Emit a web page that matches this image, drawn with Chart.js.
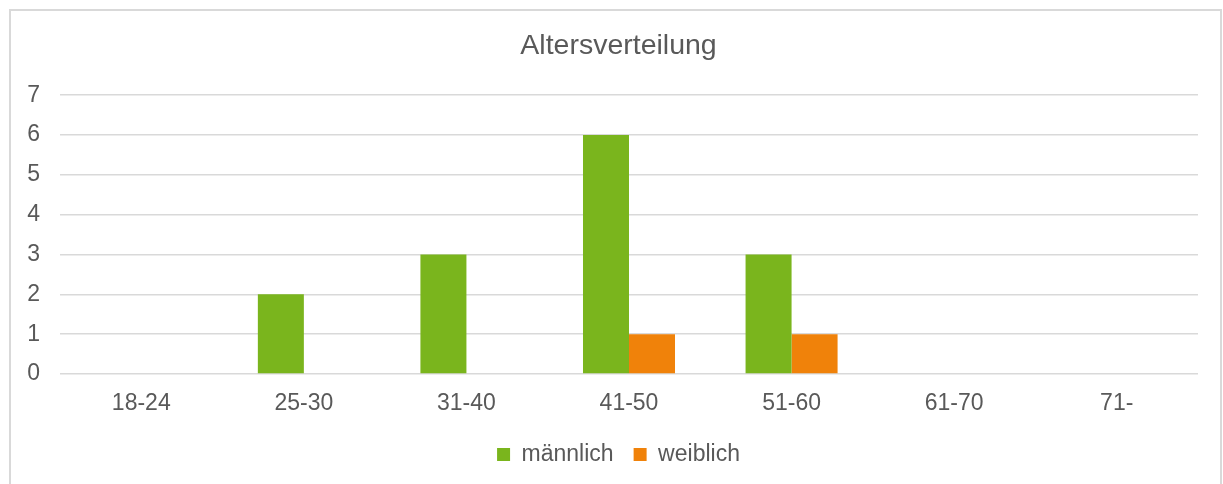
<!DOCTYPE html>
<html>
<head>
<meta charset="utf-8">
<script src="https://cdn.jsdelivr.net/npm/chart.js@4"></script>
<style>
  html, body { margin: 0; padding: 0; background: #ffffff; }
  canvas { display: block; }
</style>
</head>
<body>
<canvas id="c" width="1223" height="484"></canvas>
<script>
const categories = ["18-24", "25-30", "31-40", "41-50", "51-60", "61-70", "71-"];
const maennlich = [0, 2, 3, 6, 3, 0, 0];
const weiblich = [0, 0, 0, 1, 1, 0, 0];
const seriesNames = ["männlich", "weiblich"];
const chartTitle = "Altersverteilung";

const FONT = "'Liberation Sans', Arial, sans-serif";
const TEXT = "#595959";
const GRID = "#D9D9D9";

const borderPlugin = {
  id: 'outerBorder',
  beforeDraw(chart) {
    const ctx = chart.ctx;
    ctx.save();
    ctx.fillStyle = '#ffffff';
    ctx.fillRect(0, 0, chart.width, chart.height);
    ctx.strokeStyle = GRID;
    ctx.lineWidth = 2;
    ctx.strokeRect(10, 10, 1211, 490);
    ctx.restore();
  }
};

// Shift title and legend centring to match the reference
const shiftPlugin = {
  id: 'shiftBoxes',
  afterLayout(chart) {
    if (chart.titleBlock) chart.titleBlock.left = 39;
    if (chart.legend) chart.legend.left = 39;
  }
};

new Chart(document.getElementById('c'), {
  type: 'bar',
  data: {
    labels: categories,
    datasets: [
      { label: seriesNames[0], data: maennlich, backgroundColor: '#7AB51D', borderWidth: 0 },
      { label: seriesNames[1], data: weiblich, backgroundColor: '#F0820A', borderWidth: 0 }
    ]
  },
  options: {
    responsive: false,
    animation: false,
    devicePixelRatio: 1,
    layout: { padding: { left: 0, right: 25, top: 0, bottom: 8 } },
    datasets: { bar: { categoryPercentage: 0.566, barPercentage: 1.0 } },
    plugins: {
      title: {
        display: true,
        text: chartTitle,
        color: TEXT,
        font: { family: FONT, size: 28.5, weight: 'normal', lineHeight: 1.2 },
        padding: { top: 29, bottom: 32 }
      },
      legend: {
        position: 'bottom',
        labels: {
          color: TEXT,
          font: { family: FONT, size: 23 },
          boxWidth: 13,
          boxHeight: 13,
          padding: 20
        }
      },
      tooltip: { enabled: false }
    },
    scales: {
      x: {
        grid: { display: false, drawTicks: false },
        border: { display: false },
        ticks: { color: TEXT, font: { family: FONT, size: 23 }, padding: 16 },
        afterFit(scale) { scale.height = 49; }
      },
      y: {
        min: 0,
        max: 7,
        grid: { color: GRID, lineWidth: 1.5, drawTicks: false },
        border: { display: false },
        ticks: { stepSize: 1, color: TEXT, font: { family: FONT, size: 23 }, padding: 20 },
        afterFit(scale) { scale.width = 60; }
      }
    }
  },
  plugins: [borderPlugin, shiftPlugin]
});
</script>
</body>
</html>
